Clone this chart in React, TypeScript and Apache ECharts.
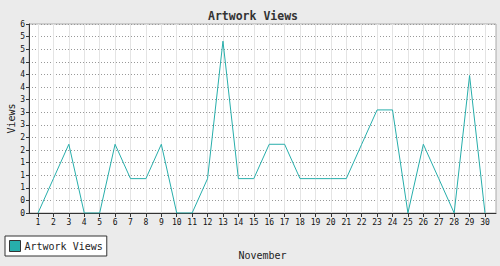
import React, { useEffect, useRef } from "react";
import * as echarts from "echarts";

const days = Array.from({ length: 30 }, (_, i) => i + 1);
const views = [0, 1, 2, 0, 0, 2, 1, 1, 2, 0, 0, 1, 5, 1, 1, 2, 2, 1, 1, 1, 1, 2, 3, 3, 0, 2, 1, 0, 4, 0];
const seriesName = "Artwork Views";
const yMax = 5.5;
const ySteps = 15;
const yTicks = Array.from({ length: ySteps + 1 }, (_, i) => (i * yMax) / ySteps);

const MONO = "DejaVu Sans Mono";

export default function App() {
  const ref = useRef<HTMLDivElement>(null);
  useEffect(() => {
    if (!ref.current) return;
    const chart = echarts.init(ref.current, null, { renderer: "svg" });
    chart.setOption({
      animation: false,
      backgroundColor: "#ebebeb",
      title: {
        text: "Artwork Views",
        left: 248,
        textAlign: "center",
        top: 5,
        textStyle: { fontFamily: MONO, fontSize: 11.5, fontWeight: "bold", color: "#333" },
      },
      legend: {
        data: [{ name: seriesName, icon: "rect" }],
        left: 5,
        top: 236,
        orient: "horizontal",
        backgroundColor: "#fff",
        borderColor: "#333",
        borderWidth: 1,
        padding: [4, 4, 4, 4],
        itemWidth: 11,
        itemHeight: 11,
        itemStyle: { borderColor: "#333", borderWidth: 1 },
        textStyle: { fontFamily: MONO, fontSize: 10, color: "#222", padding: [0, 0, 0, -1] },
      },
      grid: {
        left: 29,
        right: 4,
        top: 24,
        bottom: 53,
        outerBoundsMode: "none",
        containLabel: false,
        show: true,
        backgroundColor: "#fff",
        borderColor: "#aaa",
        borderWidth: 1,
      },
      xAxis: {
        type: "value",
        min: 1 - 9 / 15.4,
        max: 30 + 11 / 15.4,
        name: "November",
        nameLocation: "middle",
        nameGap: 37,
        nameMoveOverlap: false,
        nameTextStyle: { fontFamily: MONO, fontSize: 10, color: "#222" },
        axisLine: { lineStyle: { color: "#333", width: 1 } },
        axisTick: { show: true, length: 4, customValues: days, lineStyle: { color: "#333" } },
        axisLabel: {
          customValues: days,
          fontFamily: MONO,
          fontSize: 8,
          color: "#111",
          margin: 5,
          formatter: (v: number) => String(Math.round(v)),
        },
        splitLine: { show: true, lineStyle: { color: "#e4e4e4", width: 1 } },
      },
      yAxis: {
        type: "value",
        min: 0,
        max: yMax,
        name: "Views",
        nameLocation: "middle",
        nameGap: 13,
        nameMoveOverlap: false,
        nameRotate: 90,
        nameTextStyle: { fontFamily: MONO, fontSize: 10, color: "#222" },
        axisLine: { show: true, lineStyle: { color: "#333", width: 1 } },
        axisTick: { show: true, length: 3, customValues: yTicks, lineStyle: { color: "#333" } },
        axisLabel: {
          customValues: yTicks,
          fontFamily: MONO,
          fontSize: 8,
          color: "#111",
          margin: 4,
          formatter: (v: number) => String(Math.round(v)),
        },
        splitLine: { show: true, lineStyle: { color: "#999", width: 1, type: [1, 2] } },
      },
      series: [
        {
          name: seriesName,
          type: "line",
          data: days.map((d, i) => [d, views[i]]),
          showSymbol: false,
          symbol: "none",
          itemStyle: { color: "#27aeab" },
          lineStyle: { color: "#27aeab", width: 1 },
        },
      ],
    });
    return () => chart.dispose();
  }, []);
  return (
    <div
      ref={ref}
      style={{ position: "fixed", left: 0, top: 0, width: 500, height: 266 }}
    />
  );
}
